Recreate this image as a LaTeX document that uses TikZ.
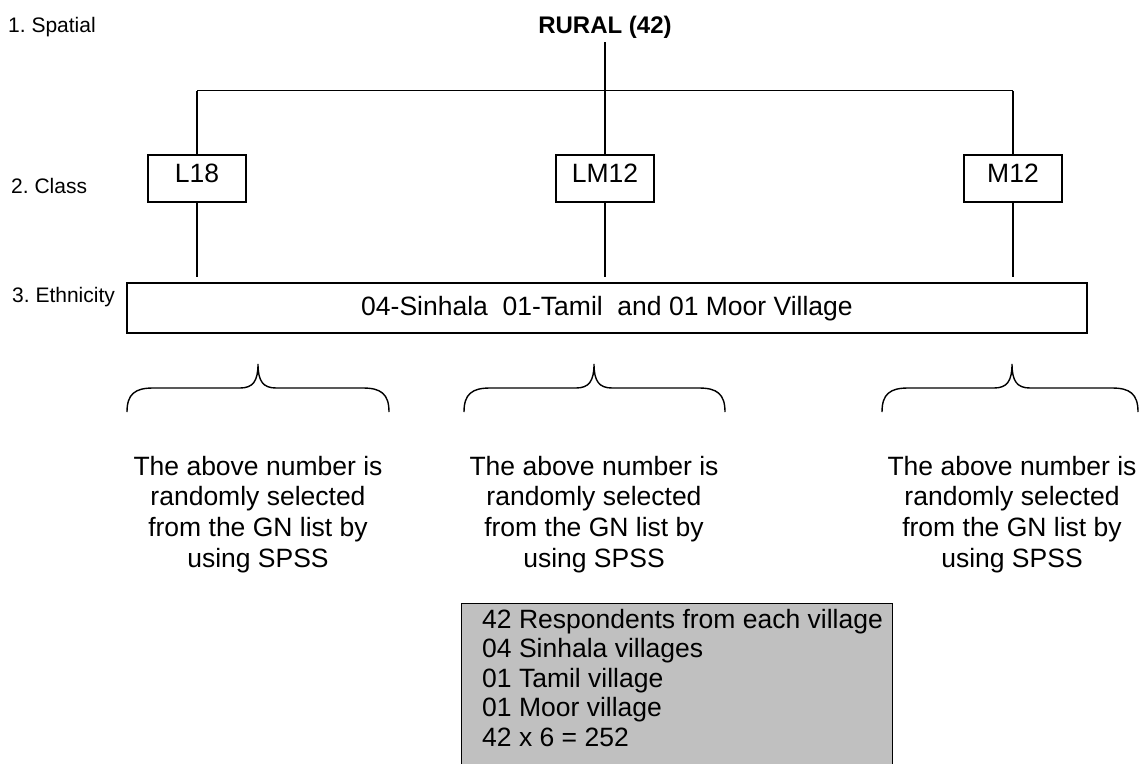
\documentclass[tikz,border=0pt]{standalone}
\usepackage{fontspec}
\setmainfont{Liberation Sans}
\definecolor{boxgray}{HTML}{C0C0C0}
\frenchspacing
\begin{document}
\begin{tikzpicture}[x=1pt,y=-1pt,
  lbl/.style={font=\fontsize{21}{25}\selectfont, inner sep=0pt, anchor=base west},
  body/.style={font=\fontsize{26.5}{30}\selectfont, inner sep=0pt, anchor=base},
  conn/.style={line width=1.3pt},
  bracepath/.style={line width=1.4pt},
  cbox/.style={draw, line width=1.6pt, minimum width=98pt, minimum height=47pt, inner sep=0pt,
    text height=17pt, text depth=10pt, font=\fontsize{26.5}{30}\selectfont},
  ebox/.style={draw, line width=1.6pt, minimum width=960pt, minimum height=50pt, inner sep=0pt,
    text height=20pt, text depth=6pt, font=\fontsize{26.5}{30}\selectfont},
  gbox/.style={draw, fill=boxgray, line width=1.3pt, minimum width=431pt, minimum height=200pt,
    inner sep=0pt, anchor=north west},
  gline/.style={font=\fontsize{26.5}{30}\selectfont, inner sep=0pt, anchor=base west}]
\useasboundingbox (0,0) rectangle (1139,763);

% level labels
\node[lbl] (lab1) at (8,32) {1. Spatial};
\node[lbl] (lab2) at (11,193) {2. Class};
\node[lbl] (lab3) at (12,302) {3. Ethnicity};

% top node
\node[font=\bfseries\fontsize{24}{28}\selectfont, inner sep=4pt, anchor=base] (rural) at (605,33) {RURAL (42)};

% junctions
\coordinate (jl) at (197,90.7);
\coordinate (jt) at (605,90.7);
\coordinate (jr) at (1013,90.7);

% class boxes
\node[cbox] (L18) at (197,178.5) {L18};
\node[cbox] (LM12) at (605,178.5) {LM12};
\node[cbox] (M12) at (1013,178.5) {M12};

% ethnicity box
\node[ebox] (eth) at (607,308) {04-Sinhala\ \ 01-Tamil\ \ and 01 Moor Village};

% lower line ends
\coordinate (el) at (197,277);
\coordinate (et) at (605,277);
\coordinate (er) at (1013,277);

% connectors
\draw[conn] (rural.south) -- (jt);
\draw[conn] (jl) -- (jr);
\draw[conn] (jl) -- (L18);
\draw[conn] (jt) -- (LM12);
\draw[conn] (jr) -- (M12);
\draw[conn] (L18) -- (el);
\draw[conn] (LM12) -- (et);
\draw[conn] (M12) -- (er);

% braces
\foreach \l/\t/\r in {127/258/389, 464/594/725, 882/1012/1138} {
  \draw[bracepath] (\l,412) .. controls (\l,394) and (\l+8,388) .. (\l+26,388)
    -- (\t-18,388) .. controls (\t-5,388) and (\t,381) .. (\t,364)
    .. controls (\t,381) and (\t+5,388) .. (\t+18,388)
    -- (\r-26,388) .. controls (\r-8,388) and (\r,394) .. (\r,412);
}

% text blocks
\foreach \cx/\n in {258/a,594/b,1012/c} {
  \node[body] (\n1) at (\cx,475) {The above number is};
  \node[body] (\n2) at (\cx,505.5) {randomly selected};
  \node[body] (\n3) at (\cx,536) {from the GN list by};
  \node[body] (\n4) at (\cx,567) {using SPSS};
}

% summary box
\node[gbox] (sum) at (461,603) {};
\node[gline] (s1) at (482,628) {42 Respondents from each village};
\node[gline] (s2) at (482,657.5) {04 Sinhala villages};
\node[gline] (s3) at (482,687) {01 Tamil village};
\node[gline] (s4) at (482,716.5) {01 Moor village};
\node[gline] (s5) at (482,746) {42 x 6 = 252};
\end{tikzpicture}
\end{document}
